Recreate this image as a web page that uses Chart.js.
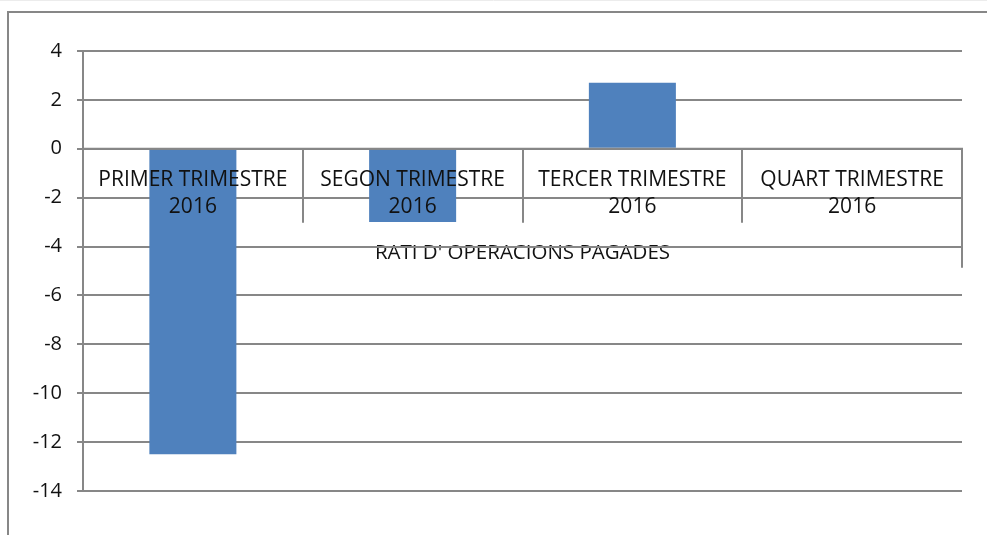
<!DOCTYPE html>
<html>
<head>
<meta charset="utf-8">
<script src="https://cdn.jsdelivr.net/npm/chart.js@4.4.1/dist/chart.umd.min.js"></script>
<style>
  html, body { margin: 0; padding: 0; background: #fff; }
  #wrap { width: 987px; height: 535px; position: relative; }
</style>
</head>
<body>
<div id="wrap"><canvas id="myChart" width="987" height="535"></canvas></div>
<script>
// chart data
const categories = [
  ['PRIMER TRIMESTRE', '2016'],
  ['SEGON TRIMESTRE', '2016'],
  ['TERCER TRIMESTRE', '2016'],
  ['QUART TRIMESTRE', '2016']
];
const values = [-12.5, -3.0, 2.7, null];
const yMin = -14;
const yMax = 4;
const yStep = 2;
const axisTitle = "RATI D' OPERACIONS PAGADES";

const gridColor = '#878787';
const textColor = '#111';
const fontFamily = "'Open Sans', sans-serif";

// excel-like frame, category labels sitting on the zero line, axis title
const excelBits = {
  id: 'excelBits',
  beforeDraw(chart) {
    const ctx = chart.ctx;
    const x = chart.scales.x;
    const y = chart.scales.y;
    ctx.save();
    ctx.strokeStyle = '#ececec';
    ctx.lineWidth = 1;
    ctx.beginPath();
    ctx.moveTo(0, 0.5);
    ctx.lineTo(chart.width, 0.5);
    ctx.stroke();
    ctx.strokeStyle = gridColor;
    ctx.lineWidth = 2;
    ctx.beginPath();
    ctx.moveTo(8, chart.height + 5);
    ctx.lineTo(8, 12);
    ctx.lineTo(chart.width + 5, 12);
    ctx.stroke();
    // title goes under the gridlines
    ctx.fillStyle = textColor;
    ctx.font = '20.5px ' + fontFamily;
    ctx.textAlign = 'center';
    ctx.textBaseline = 'middle';
    ctx.fillText(axisTitle, (x.left + x.right) / 2, y.getPixelForValue(-4) + 7);
    ctx.restore();
  },
  afterDatasetsDraw(chart) {
    const ctx = chart.ctx;
    const x = chart.scales.x;
    const y = chart.scales.y;
    const y0 = y.getPixelForValue(0);
    const step = (x.right - x.left) / categories.length;
    ctx.save();
    ctx.strokeStyle = gridColor;
    ctx.lineWidth = 2;
    ctx.beginPath();
    ctx.moveTo(x.left, y0);
    ctx.lineTo(x.right, y0);
    for (let i = 1; i < categories.length; i++) {
      const sx = Math.round(x.left + step * i);
      ctx.moveTo(sx, y0);
      ctx.lineTo(sx, y0 + 74);
    }
    ctx.moveTo(x.right, y0 - 1);
    ctx.lineTo(x.right, y0 + 119);
    ctx.stroke();

    ctx.fillStyle = textColor;
    ctx.font = '21px ' + fontFamily;
    ctx.textAlign = 'center';
    ctx.textBaseline = 'middle';
    categories.forEach((lines, i) => {
      const cx = x.getPixelForValue(i);
      lines.forEach((t, j) => ctx.fillText(t, cx, y0 + 31 + j * 27));
    });
    ctx.restore();
  }
};

const ctx = document.getElementById('myChart');
new Chart(ctx, {
  type: 'bar',
  data: {
    labels: categories.map(c => c.join(' ')),
    datasets: [{
      label: axisTitle,
      data: values,
      backgroundColor: '#4f81bd',
      borderWidth: 0,
      barPercentage: 0.396,
      categoryPercentage: 1
    }]
  },
  options: {
    responsive: false,
    animation: false,
    layout: { padding: { left: 0, top: 51, right: 25, bottom: 44 } },
    plugins: {
      legend: { display: false },
      tooltip: { enabled: false }
    },
    scales: {
      x: { display: false },
      y: {
        min: yMin,
        max: yMax,
        afterFit: (scale) => { scale.width = 83; },
        ticks: {
          stepSize: yStep,
          padding: 15,
          color: textColor,
          font: { family: fontFamily, size: 20 }
        },
        grid: { color: gridColor, lineWidth: 2, tickLength: 6 },
        border: { color: gridColor, width: 2 }
      }
    }
  },
  plugins: [excelBits]
});
</script>
</body>
</html>
